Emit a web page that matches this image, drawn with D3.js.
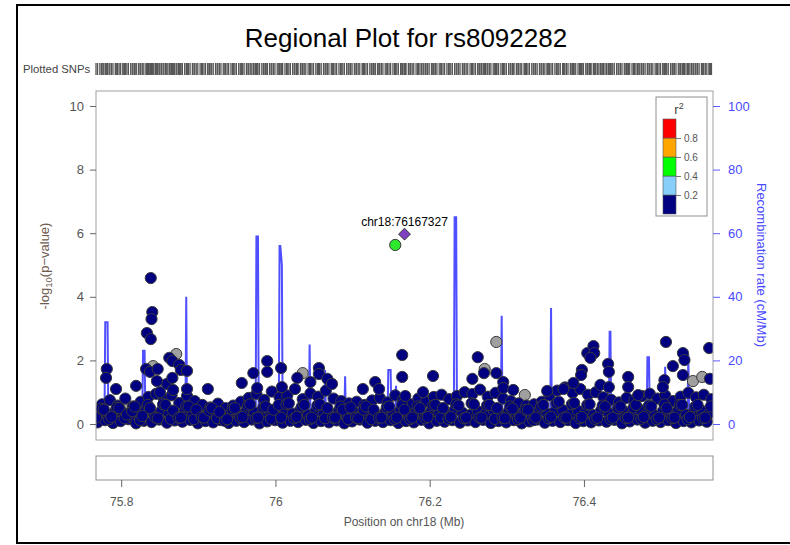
<!DOCTYPE html>
<html>
<head>
<meta charset="utf-8">
<script src="https://cdn.jsdelivr.net/npm/d3@7"></script>
<style>
  body { margin: 0; background: #fff; }
  svg { display: block; font-family: "Liberation Sans", Arial, sans-serif; }
</style>
</head>
<body>
<svg id="chart" width="790" height="545"></svg>
<script>
// ---------------- data ----------------
const chartTitle = "Regional Plot for rs8092282";
const leadLabel = "chr18:76167327";
const regionStart = 75.767327;   // Mb, left edge of the window
const regionEnd = 76.567327;     // Mb, right edge of the window
const xTickValues = [75.8, 76, 76.2, 76.4];
const xTickLabels = ["75.8", "76", "76.2", "76.4"];
const yTickValues = [0, 2, 4, 6, 8, 10];
const recombTickValues = [0, 20, 40, 60, 80, 100];
const legendBreaks = [0.2, 0.4, 0.6, 0.8];
const legendColors = ["#000080", "#87cefa", "#00ff00", "#ffa500", "#ff0000"];

// SNPs with r2 < 0.2 : [kb from window start, -log10 p]
const navySnps = [
[2,.05],[5,.32],[8,.62],[12,.12],[15,.28],[18,.75],[22,.03],[25,.41],[28,.58],
[32,.09],[35,.35],[38,.8],[42,.15],[45,.22],[48,.55],[52,.02],[55,.38],[58,.7],
[62,.1],[65,.45],[68,.85],[72,.06],[75,.3],[78,.95],[82,.14],[85,.42],[88,.78],
[92,.04],[95,.33],[98,.9],[102,.11],[105,.27],[108,.66],[112,.07],[115,.4],[118,.88],
[122,.13],[125,.36],[128,.72],[132,.02],[135,.25],[138,.6],[142,.09],[145,.31],[148,.52],
[152,.05],[155,.38],[158,.64],[162,.12],[165,.23],[168,.5],[172,.03],[175,.34],[178,.58],
[182,.1],[185,.29],[188,.7],[192,.06],[195,.41],[198,.82],[202,.14],[205,.37],[208,.95],
[212,.02],[215,.3],[218,.76],[222,.08],[225,.44],[228,1.02],[232,.12],[235,.26],[238,.84],
[242,.04],[245,.39],[248,.9],[252,.1],[255,.33],[258,1.1],[262,.06],[265,.45],[268,.78],
[272,.13],[275,.28],[278,.96],[282,.03],[285,.4],[288,.86],[292,.09],[295,.35],[298,1.05],
[302,.05],[305,.31],[308,.8],[312,.11],[315,.42],[318,.72],[322,.02],[325,.27],[328,.65],
[332,.08],[335,.36],[338,.7],[342,.14],[345,.3],[348,.6],[352,.04],[355,.4],[358,.74],
[362,.1],[365,.25],[368,.82],[372,.06],[375,.37],[378,.68],[382,.12],[385,.33],[388,.9],
[392,.03],[395,.43],[398,.76],[402,.09],[405,.29],[408,.62],[412,.05],[415,.38],[418,.8],
[422,.13],[425,.26],[428,.7],[432,.02],[435,.41],[438,.85],[442,.1],[445,.34],[448,.92],
[452,.07],[455,.3],[458,.78],[462,.12],[465,.44],[468,.88],[472,.04],[475,.36],[478,1.0],
[482,.11],[485,.28],[488,.94],[492,.06],[495,.4],[498,1.08],[502,.13],[505,.32],[508,.86],
[512,.03],[515,.45],[518,.98],[522,.09],[525,.27],[528,.8],[532,.05],[535,.39],[538,.72],
[542,.12],[545,.31],[548,.65],[552,.02],[555,.35],[558,.58],[562,.08],[565,.26],[568,.62],
[572,.14],[575,.42],[578,.7],[582,.04],[585,.33],[588,.9],[592,.1],[595,.38],[598,1.05],
[602,.06],[605,.44],[608,1.15],[612,.12],[615,.3],[618,.98],[622,.03],[625,.41],[628,1.1],
[632,.09],[635,.36],[638,.92],[642,.05],[645,.28],[648,1.0],[652,.11],[655,.43],[658,.84],
[662,.07],[665,.34],[668,.76],[672,.13],[675,.25],[678,.68],[682,.02],[685,.39],[688,.82],
[692,.08],[695,.31],[698,.74],[702,.14],[705,.45],[708,.88],[712,.04],[715,.35],[718,.95],
[722,.1],[725,.27],[728,.8],[732,.06],[735,.4],[738,.9],[742,.12],[745,.32],[748,.72],
[752,.03],[755,.44],[758,.86],[762,.09],[765,.29],[768,.98],[772,.05],[775,.37],[778,.84],
[782,.11],[785,.42],[788,.92],[792,.07],[795,.33],[798,.78],
[0,.2],[7,.48],[10,.45],[17,.15],[20,.22],[27,.52],[30,.5],[37,.18],[40,.3],[47,.4],
[50,.55],[57,.12],[60,.25],[67,.6],[70,.5],[77,.2],[80,.18],[87,.62],[90,.6],[97,.16],
[100,.42],[107,.2],[110,.2],[117,.55],[120,.55],[127,.15],[130,.45],[137,.22],[140,.2],[147,.42],
[150,.5],[157,.18],[160,.38],[167,.1],[170,.15],[177,.46],[180,.5],[187,.2],[190,.22],[197,.58],
[200,.62],[207,.18],[210,.2],[217,.52],[220,.55],[227,.16],[230,.45],[237,.6],[240,.2],[247,.62],
[250,.65],[257,.18],[260,.22],[267,.55],[270,.6],[277,.15],[280,.2],[287,.58],[290,.62],[297,.18],
[300,.5],[307,.2],[310,.2],[317,.55],[320,.45],[327,.15],[330,.52],[337,.2],[340,.18],[347,.45],
[350,.55],[357,.15],[360,.45],[367,.2],[370,.2],[377,.52],[380,.55],[387,.16],[390,.2],[397,.6],
[400,.45],[407,.15],[410,.2],[417,.55],[420,.5],[427,.18],[430,.22],[437,.58],[440,.6],[447,.2],
[450,.5],[457,.16],[460,.22],[467,.62],[470,.58],[477,.18],[480,.2],[487,.65],[490,.62],[497,.2],
[500,.2],[507,.58],[510,.6],[517,.16],[520,.5],[527,.2],[530,.18],[537,.55],[540,.48],[547,.15],
[550,.2],[557,.45],[560,.45],[567,.12],[570,.2],[577,.55],[580,.6],[587,.18],[590,.22],[597,.65],
[600,.7],[607,.2],[610,.2],[617,.62],[620,.66],[627,.18],[630,.22],[637,.6],[640,.62],[647,.16],
[650,.2],[657,.58],[660,.55],[667,.15],[670,.2],[677,.5],[680,.55],[687,.18],[690,.2],[697,.52],
[700,.6],[707,.16],[710,.22],[717,.58],[720,.55],[727,.15],[730,.2],[737,.62],[740,.5],[747,.18],
[750,.2],[757,.6],[760,.6],[767,.15],[770,.22],[777,.55],[780,.6],[787,.18],[790,.2],[797,.55],
// raised SNPs
[14,1.73],[13,1.45],[26,1.1],[71,4.59],[73,3.52],[72,3.3],[66,2.86],[71,2.67],
[65,1.73],[70,1.64],[80,1.73],[95,2.08],[99,1.98],[108,1.86],[110,1.7],[118,1.67],
[118,1.1],[92,1.26],[99,1.45],[79,1.35],[100,1.07],[83,1.0],[52,1.2],[145,1.1],
[189,1.29],[204,1.6],[209,1.13],[222,1.98],[222,1.64],[240,1.76],[241,1.16],
[261,1.45],[289,1.76],[289,1.57],[300,1.42],[306,1.26],[278,1.32],[346,1.1],
[362,1.32],[367,1.1],[397,2.17],[397,1.48],[401,.88],[437,1.51],[424,1.0],
[495,2.1],[488,1.42],[503,1.6],[519,1.6],[528,1.32],[528,1.13],[541,1.07],
[585,1.04],[606,1.1],[619,1.29],[630,1.7],[629,1.54],[637,2.23],[645,2.45],
[646,2.23],[641,2.08],[664,1.89],[665,1.64],[654,1.23],[665,1.16],[690,1.48],
[690,1.16],[703,.91],[739,2.58],[748,1.82],[761,2.23],[763,2.01],[761,1.54],
[737,1.38],[735,1.16],[795,2.39],[796,1.42]
];
// SNPs without LD information (grey)
const greySnps = [
[104,2.2],[74,1.82],[268,1.6],[519,2.58],[504,1.73],[556,.91],[774,1.35],[786,1.48],
[35,.5],[330,.3],[440,.15],[715,.1]
];
// SNPs with 0.4 <= r2 < 0.6
const greenSnps = [[388,5.63]];
// index SNP
const leadSnp = [[400,5.97]];

// recombination rate: [kb from window start, cM/Mb]
const recombRate = [
[0,1],[11,2],[12,32],[15,32],[16,2],[40,1],[60,2],[61,23],[63,23],[64,2],
[90,1],[116,3],[117,40],[118,3],[160,1],[207,2],[208,59],[210,59],[211,2],
[225,1],[237,2],[238,56],[239,56],[241,50],[242,2],[260,1],[276,3],[277,25],[278,3],
[296,3],[297,17],[298,3],[322,2],[323,15],[324,2],[350,1],[378,2],[379,17],[382,17],
[383,3],[388,3],[389,12],[390,2],[410,1],[423,2],[424,8.5],[425,2],[450,1],
[464,2],[465,65],[467,65],[468,2],[500,1],[525,3],[526,34],[527,3],[560,1],
[589,2],[590,36.5],[591,2],[630,1],[665,3],[666,29],[667,29],[668,3],[700,1],
[714,2],[715,21],[717,21],[718,2],[737,2],[738,18],[739,2],[767,3],[768,22],
[769,3],[800,1]
];

// ---------------- drawing ----------------
const svg = d3.select("#chart");
const box = {left: 96, right: 713, top: 91, bottom: 440};
const gene = {top: 456, bottom: 480};

const x = d3.scaleLinear().domain([regionStart, regionEnd]).range([box.left, box.right]);
const y = d3.scaleLinear().domain([0, 10]).range([424, 106]);
const yr = d3.scaleLinear().domain([0, 100]).range([424, 106]);
const pos = kb => regionStart + kb / 1000;

// outer frame
svg.append("path").attr("d", "M790,5 H17 V543 H790")
  .attr("fill", "none").attr("stroke", "#000").attr("stroke-width", 2);

// title
svg.append("text").attr("x", 406).attr("y", 47).attr("text-anchor", "middle")
  .attr("font-size", 26).attr("fill", "#000").text(chartTitle);

// plotted SNP rug
svg.append("text").attr("x", 23).attr("y", 73).attr("font-size", 11.3)
  .attr("fill", "#444").text("Plotted SNPs");
const allSnps = navySnps.concat(greySnps, greenSnps, leadSnp);
svg.append("g").selectAll("line").data(allSnps).join("line")
  .attr("x1", d => x(pos(d[0]))).attr("x2", d => x(pos(d[0])))
  .attr("y1", 63).attr("y2", 75)
  .attr("stroke", "#555").attr("stroke-width", 1.3);

// clip for plot area
svg.append("defs").append("clipPath").attr("id", "clip")
  .append("rect").attr("x", box.left).attr("y", box.top)
  .attr("width", box.right - box.left).attr("height", box.bottom - box.top);

const plot = svg.append("g").attr("clip-path", "url(#clip)");

// recombination line
plot.append("path").datum(recombRate)
  .attr("d", d3.line().x(d => x(pos(d[0]))).y(d => yr(d[1])))
  .attr("fill", "none").attr("stroke", "#3c3cff").attr("stroke-opacity", 0.9)
  .attr("stroke-width", 2);

// points
const drawPts = (data, fill) => plot.append("g").selectAll("circle").data(data).join("circle")
  .attr("cx", d => x(pos(d[0]))).attr("cy", d => y(d[1])).attr("r", 5.6)
  .attr("fill", fill).attr("stroke", "#3a3a3a").attr("stroke-width", 1);
drawPts(greySnps, "#a0a0a0");
drawPts(navySnps, "#000080");
drawPts(greenSnps, "#2ee82e");

// lead SNP diamond
plot.append("g").selectAll("path").data(leadSnp).join("path")
  .attr("d", d3.symbol().type(d3.symbolDiamond2).size(90))
  .attr("transform", d => `translate(${x(pos(d[0]))},${y(d[1])})`)
  .attr("fill", "#8040c0").attr("stroke", "#3a3a3a").attr("stroke-width", 1);
svg.append("g").selectAll("text").data(leadSnp).join("text")
  .attr("x", d => x(pos(d[0]))).attr("y", d => y(d[1]) - 8)
  .attr("text-anchor", "middle").attr("font-size", 12).attr("fill", "#000").text(leadLabel);

// plot box
svg.append("rect").attr("x", box.left).attr("y", box.top)
  .attr("width", box.right - box.left).attr("height", box.bottom - box.top)
  .attr("fill", "none").attr("stroke", "#a0a0a0").attr("stroke-width", 1);

// left axis
const gL = svg.append("g").attr("transform", `translate(${box.left},0)`)
  .call(d3.axisLeft(y).tickValues(yTickValues).tickSize(6).tickPadding(6).tickFormat(d3.format("d")));
gL.select(".domain").remove();
gL.selectAll("line").attr("stroke", "#666");
gL.selectAll("text").attr("font-size", 13).attr("fill", "#555").attr("font-family", "Liberation Sans, Arial");
const ylab = svg.append("text").attr("transform", "translate(49,266) rotate(-90)")
  .attr("text-anchor", "middle").attr("font-size", 13).attr("fill", "#6e5a4e");
ylab.append("tspan").text("-log");
ylab.append("tspan").attr("font-size", 9.5).attr("dy", 3).text("10");
ylab.append("tspan").attr("dy", -3).text("(p\u2212value)");

// right axis
const gR = svg.append("g").attr("transform", `translate(${box.right},0)`)
  .call(d3.axisRight(yr).tickValues(recombTickValues).tickSize(7).tickPadding(8));
gR.select(".domain").remove();
gR.selectAll("line").attr("stroke", "#5a5aff");
gR.selectAll("text").attr("font-size", 13).attr("fill", "#4a4aff").attr("font-family", "Liberation Sans, Arial");
svg.append("text").attr("transform", "translate(757,265) rotate(90)")
  .attr("text-anchor", "middle").attr("font-size", 13).attr("fill", "#4a4aff")
  .text("Recombination rate (cM/Mb)");

// legend
const leg = svg.append("g");
leg.append("rect").attr("x", 656).attr("y", 97).attr("width", 51).attr("height", 119)
  .attr("fill", "#fff").attr("stroke", "#909090");
const lt = leg.append("text").attr("x", 679).attr("y", 114).attr("text-anchor", "middle")
  .attr("font-size", 13).attr("fill", "#444");
lt.append("tspan").text("r");
lt.append("tspan").attr("font-size", 9).attr("dy", -5).text("2");
const ls = d3.scaleLinear().domain([0, 1]).range([214, 119]);
const bins = [0, 0.2, 0.4, 0.6, 0.8, 1];
leg.selectAll("rect.bin").data(legendColors).join("rect").attr("class", "bin")
  .attr("x", 663).attr("width", 13)
  .attr("y", (c, i) => ls(bins[i + 1])).attr("height", (c, i) => ls(bins[i]) - ls(bins[i + 1]))
  .attr("fill", c => c).attr("stroke", "#555").attr("stroke-width", 0.6);
const gLeg = leg.append("g").attr("transform", "translate(676,0)")
  .call(d3.axisRight(ls).tickValues(legendBreaks).tickSize(5).tickPadding(3).tickFormat(d3.format(".1f")));
gLeg.select(".domain").remove();
gLeg.selectAll("line").attr("stroke", "#777");
gLeg.selectAll("text").attr("font-size", 10).attr("fill", "#555").attr("font-family", "Liberation Sans, Arial");

// gene panel
svg.append("rect").attr("x", box.left).attr("y", gene.top)
  .attr("width", box.right - box.left).attr("height", gene.bottom - gene.top)
  .attr("fill", "none").attr("stroke", "#909090");

// x axis
const gX = svg.append("g").attr("transform", `translate(0,${gene.bottom})`)
  .call(d3.axisBottom(x).tickValues(xTickValues).tickSize(7).tickPadding(10)
    .tickFormat((d, i) => xTickLabels[i]));
gX.select(".domain").remove();
gX.selectAll("line").attr("stroke", "#666");
gX.selectAll("text").attr("font-size", 12).attr("fill", "#555").attr("font-family", "Liberation Sans, Arial");
svg.append("text").attr("x", 404).attr("y", 526).attr("text-anchor", "middle")
  .attr("font-size", 12).attr("fill", "#555").text("Position on chr18 (Mb)");
</script>
</body>
</html>
